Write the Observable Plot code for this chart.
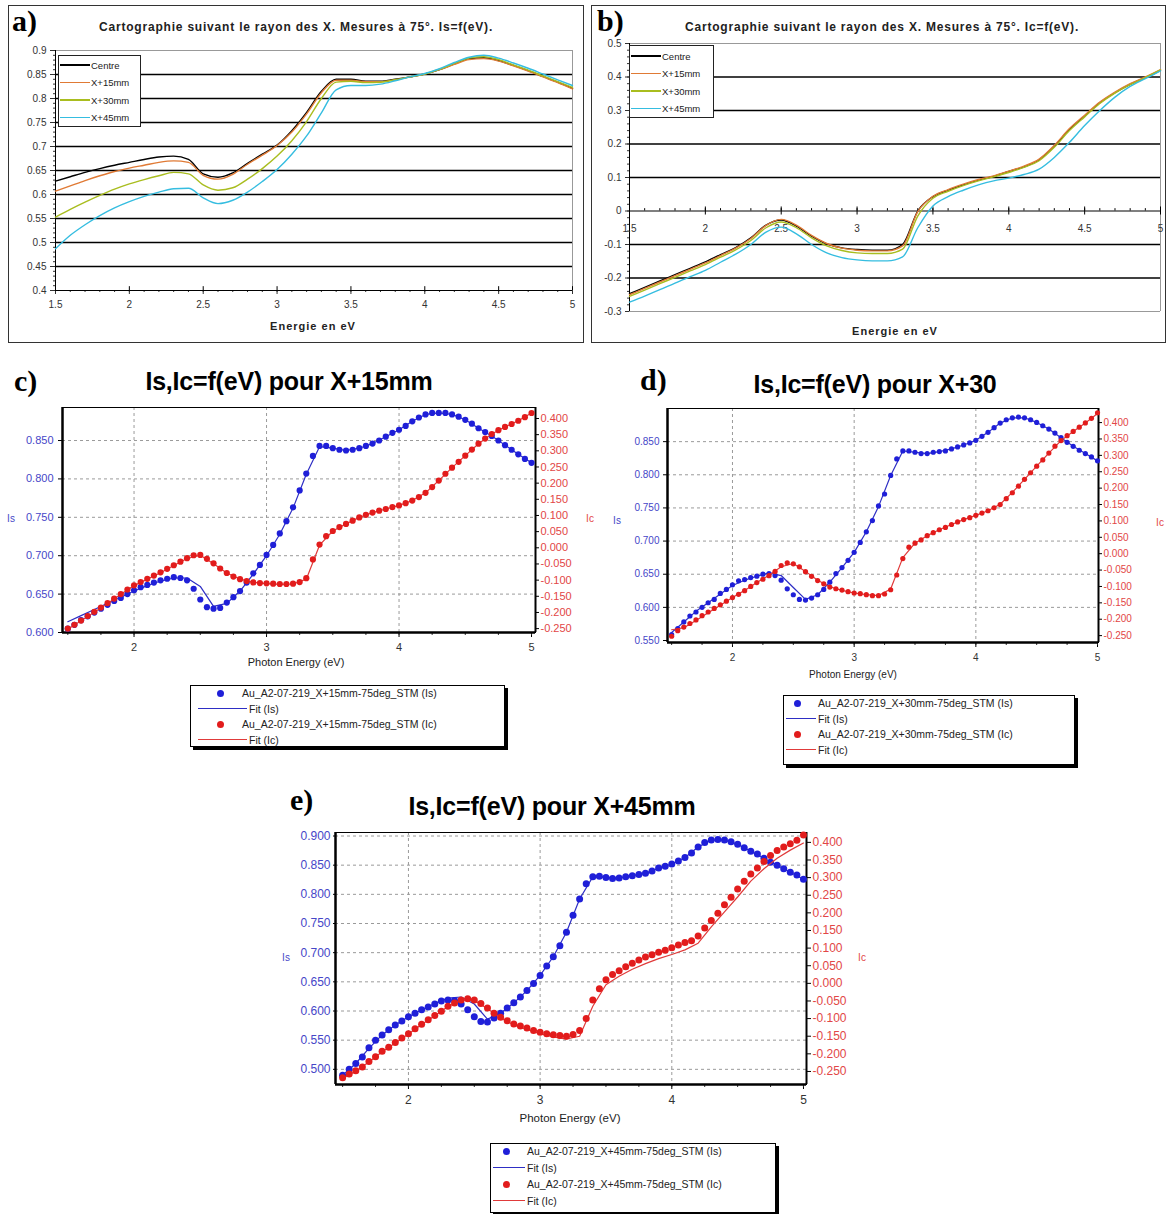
<!DOCTYPE html>
<html><head><meta charset="utf-8">
<script src="https://cdn.jsdelivr.net/npm/d3@7"></script>
<script src="https://cdn.jsdelivr.net/npm/@observablehq/plot@0.6"></script>
<style>
body{margin:0;background:#fff;width:1167px;height:1214px;position:relative;overflow:hidden;font-family:Arial,"Liberation Sans",sans-serif;}
.box{position:absolute;border:1px solid #333;box-sizing:border-box;}
.plab{position:absolute;font-family:"Liberation Serif","DejaVu Serif",serif;font-weight:bold;font-size:30px;line-height:1;}
.ctr{position:absolute;transform:translate(-50%,-50%);white-space:nowrap;line-height:1;}
.ptitle{font-weight:bold;font-size:25px;letter-spacing:-0.2px;}
.stitle{font-weight:bold;font-size:12px;letter-spacing:0.8px;color:#222;}
.xlab{font-size:11px;color:#222;}
.legend{position:absolute;border:1px solid #000;background:#fff;box-shadow:3px 3px 0 #000;font-size:10.5px;color:#222;}
.lrow{position:absolute;left:0;height:14px;display:flex;align-items:center;white-space:nowrap;}
.slegend{position:absolute;border:1px solid #222;background:#fff;font-size:9.5px;color:#222;}
svg{position:absolute;}
</style></head>
<body>
<script>
// ---------- shared energy grids ----------
const energies05 = [1.50,1.55,1.60,1.65,1.70,1.75,1.80,1.85,1.90,1.95,2.00,2.05,2.10,2.15,2.20,2.25,2.30,2.35,2.40,2.45,2.50,2.55,2.60,2.65,2.70,2.75,2.80,2.85,2.90,2.95,3.00,3.05,3.10,3.15,3.20,3.25,3.30,3.35,3.40,3.45,3.50,3.55,3.60,3.65,3.70,3.75,3.80,3.85,3.90,3.95,4.00,4.05,4.10,4.15,4.20,4.25,4.30,4.35,4.40,4.45,4.50,4.55,4.60,4.65,4.70,4.75,4.80,4.85,4.90,4.95,5.00];
const energies10 = [1.5,1.6,1.7,1.8,1.9,2.0,2.1,2.2,2.3,2.4,2.5,2.6,2.7,2.8,2.9,3.0,3.1,3.2,3.3,3.4,3.5,3.6,3.7,3.8,3.9,4.0,4.1,4.2,4.3,4.4,4.5,4.6,4.7,4.8,4.9,5.0];

// ---------- panel a : Is, four positions ----------
const seriesNames = ["Centre","X+15mm","X+30mm","X+45mm"];
const aCentre = [0.628,0.637,0.646,0.654,0.661,0.667,0.673,0.678,0.680,0.673,0.643,0.636,0.645,0.665,0.684,0.703,0.733,0.771,0.815,0.840,0.840,0.836,0.836,0.840,0.845,0.851,0.860,0.872,0.883,0.885,0.879,0.869,0.858,0.846,0.834,0.821];
const aX15    = [0.607,0.618,0.629,0.639,0.648,0.655,0.661,0.667,0.670,0.667,0.640,0.632,0.642,0.663,0.682,0.702,0.730,0.768,0.812,0.838,0.838,0.835,0.835,0.839,0.845,0.851,0.860,0.871,0.881,0.883,0.878,0.868,0.857,0.845,0.833,0.820];
const aX30    = [0.553,0.569,0.584,0.598,0.611,0.622,0.631,0.639,0.646,0.643,0.620,0.609,0.614,0.632,0.654,0.680,0.712,0.752,0.800,0.834,0.836,0.833,0.834,0.839,0.845,0.851,0.861,0.873,0.884,0.887,0.881,0.870,0.859,0.847,0.835,0.823];
const aX45    = [0.487,0.515,0.537,0.556,0.572,0.585,0.596,0.605,0.612,0.613,0.593,0.581,0.588,0.605,0.627,0.652,0.684,0.722,0.770,0.818,0.827,0.827,0.830,0.837,0.845,0.852,0.862,0.875,0.886,0.890,0.884,0.874,0.863,0.851,0.839,0.827];
const aYTicks = [0.4,0.45,0.5,0.55,0.6,0.65,0.7,0.75,0.8,0.85,0.9];
const aGrid = [0.45,0.5,0.55,0.6,0.65,0.7,0.75,0.8,0.85];
const abXTicks = [1.5,2,2.5,3,3.5,4,4.5,5];

// ---------- panel b : Ic, four positions ----------
const bCentre = [-0.247,-0.228,-0.209,-0.190,-0.171,-0.152,-0.130,-0.109,-0.080,-0.042,-0.027,-0.045,-0.075,-0.098,-0.110,-0.115,-0.117,-0.117,-0.100,0.000,0.043,0.062,0.078,0.092,0.103,0.118,0.132,0.153,0.193,0.243,0.283,0.323,0.353,0.378,0.398,0.420];
const bX15    = [-0.250,-0.231,-0.212,-0.193,-0.174,-0.155,-0.133,-0.111,-0.082,-0.043,-0.025,-0.042,-0.073,-0.097,-0.111,-0.117,-0.119,-0.119,-0.104,-0.002,0.044,0.064,0.080,0.094,0.105,0.119,0.134,0.155,0.196,0.246,0.286,0.325,0.355,0.380,0.400,0.422];
const bX30    = [-0.255,-0.236,-0.217,-0.198,-0.179,-0.160,-0.138,-0.116,-0.088,-0.050,-0.033,-0.050,-0.080,-0.104,-0.118,-0.125,-0.127,-0.127,-0.114,-0.015,0.038,0.059,0.076,0.090,0.102,0.115,0.130,0.150,0.190,0.240,0.281,0.321,0.352,0.377,0.398,0.421];
const bX45    = [-0.272,-0.254,-0.235,-0.215,-0.196,-0.177,-0.153,-0.129,-0.100,-0.063,-0.048,-0.068,-0.100,-0.125,-0.139,-0.146,-0.149,-0.149,-0.137,-0.050,0.015,0.043,0.062,0.078,0.090,0.098,0.109,0.125,0.160,0.205,0.255,0.300,0.340,0.372,0.395,0.418];
const bYTicks = [-0.3,-0.2,-0.1,0,0.1,0.2,0.3,0.4,0.5];
const bGrid = [-0.2,-0.1,0.1,0.2,0.3,0.4];

// ---------- panel c : X+15mm ----------
const cIs = [0.605,0.610,0.616,0.621,0.626,0.631,0.636,0.641,0.645,0.650,0.655,0.659,0.662,0.665,0.668,0.670,0.672,0.671,0.668,0.657,0.643,0.633,0.631,0.632,0.639,0.646,0.654,0.665,0.677,0.688,0.701,0.714,0.729,0.745,0.763,0.785,0.807,0.830,0.843,0.843,0.840,0.838,0.837,0.838,0.840,0.843,0.846,0.850,0.855,0.860,0.864,0.869,0.875,0.880,0.884,0.886,0.886,0.886,0.884,0.881,0.877,0.872,0.866,0.861,0.856,0.850,0.844,0.838,0.832,0.826,0.821];
const cIc = [-0.250,-0.238,-0.225,-0.211,-0.198,-0.185,-0.171,-0.157,-0.143,-0.129,-0.116,-0.106,-0.096,-0.086,-0.076,-0.065,-0.054,-0.043,-0.032,-0.023,-0.022,-0.034,-0.048,-0.064,-0.078,-0.089,-0.097,-0.103,-0.107,-0.109,-0.110,-0.111,-0.112,-0.112,-0.111,-0.106,-0.094,-0.036,0.010,0.036,0.052,0.064,0.074,0.084,0.094,0.102,0.109,0.115,0.120,0.126,0.131,0.138,0.146,0.157,0.170,0.188,0.208,0.229,0.248,0.266,0.285,0.304,0.322,0.338,0.352,0.364,0.374,0.383,0.393,0.404,0.417];
const cFitIs = [0.614,0.622,0.630,0.638,0.646,0.654,0.661,0.667,0.671,0.671,0.660,0.634,0.638,0.654,0.676,0.700,0.728,0.762,0.806,0.842,0.840,0.837,0.840,0.846,0.855,0.864,0.875,0.884,0.886,0.884,0.877,0.866,0.856,0.844,0.832,0.821];
const cFitIc = [-0.252,-0.226,-0.199,-0.172,-0.144,-0.117,-0.097,-0.077,-0.055,-0.033,-0.023,-0.049,-0.078,-0.097,-0.107,-0.111,-0.113,-0.112,-0.097,0.008,0.052,0.074,0.094,0.109,0.120,0.131,0.146,0.170,0.208,0.248,0.285,0.322,0.352,0.374,0.393,0.417];

// ---------- panel d : X+30mm ----------
const dIs = [0.559,0.568,0.578,0.587,0.593,0.600,0.607,0.612,0.621,0.627,0.634,0.640,0.642,0.645,0.647,0.650,0.651,0.648,0.641,0.628,0.619,0.612,0.611,0.614,0.619,0.627,0.638,0.651,0.660,0.671,0.683,0.698,0.714,0.731,0.753,0.771,0.799,0.824,0.836,0.836,0.834,0.832,0.832,0.834,0.835,0.836,0.839,0.842,0.845,0.848,0.852,0.858,0.864,0.871,0.878,0.883,0.886,0.887,0.886,0.883,0.879,0.874,0.869,0.863,0.856,0.849,0.843,0.837,0.832,0.827,0.821];
const dIc = [-0.252,-0.235,-0.224,-0.213,-0.202,-0.189,-0.178,-0.167,-0.156,-0.145,-0.134,-0.124,-0.113,-0.100,-0.088,-0.078,-0.067,-0.054,-0.036,-0.028,-0.031,-0.040,-0.055,-0.069,-0.082,-0.092,-0.102,-0.107,-0.111,-0.116,-0.120,-0.122,-0.125,-0.128,-0.128,-0.123,-0.110,-0.065,-0.015,0.020,0.032,0.042,0.055,0.064,0.073,0.080,0.089,0.097,0.104,0.110,0.117,0.124,0.131,0.140,0.150,0.168,0.186,0.206,0.227,0.247,0.267,0.286,0.307,0.328,0.345,0.360,0.373,0.386,0.399,0.413,0.430];
const dFitIs = [0.562,0.578,0.594,0.607,0.620,0.633,0.641,0.647,0.652,0.648,0.630,0.612,0.619,0.638,0.660,0.683,0.714,0.752,0.799,0.836,0.834,0.832,0.835,0.839,0.845,0.852,0.864,0.878,0.886,0.886,0.879,0.869,0.856,0.843,0.832,0.821];
const dFitIc = [-0.232,-0.226,-0.204,-0.180,-0.157,-0.134,-0.112,-0.088,-0.066,-0.040,-0.030,-0.054,-0.081,-0.101,-0.112,-0.120,-0.125,-0.128,-0.108,-0.012,0.032,0.055,0.073,0.089,0.104,0.117,0.131,0.151,0.187,0.227,0.267,0.307,0.345,0.373,0.399,0.428];

// ---------- panel e : X+45mm ----------
const eIs = [0.490,0.500,0.510,0.521,0.537,0.550,0.559,0.568,0.576,0.583,0.590,0.596,0.602,0.607,0.612,0.617,0.619,0.618,0.612,0.602,0.590,0.582,0.581,0.588,0.596,0.605,0.614,0.624,0.635,0.647,0.661,0.677,0.693,0.712,0.735,0.764,0.792,0.818,0.830,0.831,0.829,0.827,0.828,0.830,0.832,0.834,0.836,0.840,0.845,0.848,0.852,0.857,0.863,0.871,0.881,0.889,0.893,0.894,0.893,0.890,0.886,0.880,0.874,0.869,0.862,0.855,0.850,0.844,0.838,0.833,0.826];
const eIc = [-0.268,-0.257,-0.248,-0.237,-0.222,-0.208,-0.193,-0.181,-0.168,-0.155,-0.143,-0.129,-0.116,-0.103,-0.091,-0.079,-0.065,-0.056,-0.047,-0.044,-0.047,-0.057,-0.070,-0.085,-0.096,-0.106,-0.115,-0.121,-0.127,-0.134,-0.139,-0.143,-0.146,-0.148,-0.150,-0.145,-0.134,-0.100,-0.047,-0.015,0.010,0.025,0.036,0.047,0.057,0.066,0.075,0.081,0.088,0.094,0.101,0.109,0.116,0.121,0.134,0.157,0.178,0.199,0.223,0.244,0.268,0.290,0.310,0.327,0.346,0.363,0.377,0.387,0.396,0.406,0.421];
const eFitIs = [0.490,0.510,0.536,0.559,0.576,0.590,0.602,0.613,0.622,0.624,0.612,0.586,0.596,0.614,0.635,0.661,0.693,0.735,0.792,0.830,0.829,0.828,0.832,0.836,0.845,0.852,0.863,0.881,0.893,0.893,0.886,0.874,0.862,0.850,0.838,0.826];
const eFitIc = [-0.270,-0.249,-0.223,-0.194,-0.169,-0.144,-0.117,-0.092,-0.066,-0.048,-0.048,-0.072,-0.098,-0.118,-0.131,-0.143,-0.152,-0.158,-0.150,-0.065,-0.004,0.020,0.040,0.056,0.070,0.082,0.095,0.114,0.160,0.203,0.245,0.290,0.325,0.355,0.378,0.398];

const fitXTicks = [2,3,4,5];
const isTicksCD = [0.55,0.6,0.65,0.7,0.75,0.8,0.85];
const isTicksE = [0.5,0.55,0.6,0.65,0.7,0.75,0.8,0.85,0.9];
const icTicks = [-0.25,-0.2,-0.15,-0.1,-0.05,0,0.05,0.1,0.15,0.2,0.25,0.3,0.35,0.4];

// ---------- helpers ----------
const fmt = d => String(+d.toFixed(2));
const f3 = d => d.toFixed(3);
const FONT = "Arial, 'Liberation Sans', sans-serif";
const lineColors = ["#000000","#e07a35","#a9bd1f","#35bde0"];

function put(el, left, top) { el.style.left = left + "px"; el.style.top = top + "px"; document.body.appendChild(el); return el; }
function div(cls, html) { const d = document.createElement("div"); d.className = cls; d.innerHTML = html; return d; }
function center(cls, html, cx, cy, extra) { const d = div("ctr " + cls, html); if (extra) Object.assign(d.style, extra); return put(d, cx, cy); }

// ---------- panel a ----------
const aData = [aCentre,aX15,aX30,aX45].flatMap((v, k) => v.map((y, i) => ({x: energies10[i], y, s: seriesNames[k]})));
put(div("box",""), 8, 5).style.cssText += "width:576px;height:338px;";
const pa = Plot.plot({
  width: 574, height: 336, marginLeft: 46, marginRight: 11, marginTop: 44, marginBottom: 52,
  x: {domain: [1.5, 5], axis: null}, y: {domain: [0.4, 0.9], axis: null},
  color: {domain: seriesNames, range: lineColors},
  style: {background: "transparent", fontFamily: FONT, fontSize: "10px", color: "#333"},
  marks: [
    Plot.ruleY(aGrid, {stroke: "#000", strokeWidth: 1.3}),
    Plot.ruleY([0.9], {stroke: "#999"}),
    Plot.ruleX([5], {stroke: "#999"}),
    Plot.axisY({ticks: aYTicks, tickFormat: fmt, tickSize: 5, tickPadding: 4, label: null}),
    Plot.axisY({ticks: d3.range(0.4, 0.9001, 0.01), tickFormat: () => "", tickSize: 2, label: null}),
    Plot.axisX({ticks: abXTicks, tickFormat: fmt, tickSize: 4, tickPadding: 6, label: null}),
    Plot.axisX({ticks: d3.range(1.5, 5.001, 0.1), tickFormat: () => "", tickSize: 2, label: null}),
    Plot.ruleX(abXTicks, {x: d => d, y1: 0.4, y2: 0.408, stroke: "#000"}),
    Plot.ruleX([1.5], {stroke: "#000"}),
    Plot.ruleY([0.4], {stroke: "#000"}),
    Plot.line(aData, {x: "x", y: "y", stroke: "s", strokeWidth: 1.4, curve: "monotone-x"})
  ]
});
put(pa, 9, 6);
put(div("plab","a)"), 12, 6);
center("stitle", "Cartographie suivant le rayon des X. Mesures à 75°. Is=f(eV).", 296, 27);
center("stitle", "Energie en eV", 313, 326, {fontSize: "11px", letterSpacing: "1px"});
{
  const lg = put(div("slegend",""), 58, 55); lg.style.width = "81px"; lg.style.height = "70px";
  seriesNames.forEach((n, k) => {
    const r = div("lrow", `<span style="display:inline-block;width:30px;height:1.5px;background:${lineColors[k]};margin-right:1px"></span>${n}`);
    r.style.top = (2 + k * 17.5) + "px"; r.style.left = "1px"; lg.appendChild(r);
  });
}

// ---------- panel b ----------
const bData = [bCentre,bX15,bX30,bX45].flatMap((v, k) => v.map((y, i) => ({x: energies10[i], y, s: seriesNames[k]})));
put(div("box",""), 591, 5).style.cssText += "width:575px;height:338px;";
const pb = Plot.plot({
  width: 572, height: 336, marginLeft: 37, marginRight: 4, marginTop: 37, marginBottom: 31,
  x: {domain: [1.5, 5], axis: null}, y: {domain: [-0.3, 0.5], axis: null},
  color: {domain: seriesNames, range: lineColors},
  style: {background: "transparent", fontFamily: FONT, fontSize: "10px", color: "#333"},
  marks: [
    Plot.ruleY(bGrid, {stroke: "#000", strokeWidth: 1.3}),
    Plot.ruleY([0.5, -0.3], {stroke: "#999"}),
    Plot.ruleX([5], {stroke: "#999"}),
    Plot.axisY({ticks: bYTicks, tickFormat: fmt, tickSize: 4, tickPadding: 4, label: null}),
    Plot.axisY({ticks: d3.range(-0.3, 0.5001, 0.02), tickFormat: () => "", tickSize: 2, label: null}),
    Plot.ruleX([1.5], {stroke: "#000"}),
    Plot.ruleY([0], {stroke: "#000", strokeWidth: 1}),
    Plot.ruleX(abXTicks, {x: d => d, y1: -0.012, y2: 0.012, stroke: "#000"}),
    Plot.ruleX(d3.range(1.5, 5.001, 0.1), {x: d => d, y1: 0, y2: 0.007, stroke: "#000"}),
    Plot.text(abXTicks, {x: d => d, y: 0, dy: 18, text: fmt, fill: "#333", fontSize: 10}),
    Plot.line(bData, {x: "x", y: "y", stroke: "s", strokeWidth: 1.4, curve: "monotone-x"})
  ]
});
put(pb, 592, 6);
put(div("plab","b)"), 597, 6);
center("stitle", "Cartographie suivant le rayon des X. Mesures à 75°. Ic=f(eV).", 882, 27);
center("stitle", "Energie en eV", 895, 331, {fontSize: "11px", letterSpacing: "1px"});
{
  const lg = put(div("slegend",""), 629, 45); lg.style.width = "83px"; lg.style.height = "71px";
  seriesNames.forEach((n, k) => {
    const r = div("lrow", `<span style="display:inline-block;width:30px;height:1.5px;background:${lineColors[k]};margin-right:1px"></span>${n}`);
    r.style.top = (3 + k * 17.5) + "px"; r.style.left = "1px"; lg.appendChild(r);
  });
}

// ---------- dual-axis fit panels ----------
const BLUE = "#1f1fd8", BLUE_FIT = "#2e2ec4", BLUE_TXT = "#4646c8";
const RED = "#e21c1c", RED_FIT = "#e03a3a", RED_TXT = "#e24646";

function dualPanel(c) {
  const common = {
    width: c.w, height: c.h, marginLeft: c.ml, marginRight: c.mr, marginTop: c.mt, marginBottom: c.mb,
    style: {background: "transparent", fontFamily: FONT, fontSize: c.fs + "px", color: "#333"}
  };
  const isPts = energies05.map((x, i) => ({x, y: c.is[i]}));
  const icPts = energies05.map((x, i) => ({x, y: c.ic[i]}));
  const isFit = energies10.map((x, i) => ({x, y: c.fitIs[i]}));
  const icFit = energies10.map((x, i) => ({x, y: c.fitIc[i]}));
  const p1 = Plot.plot({...common,
    x: {domain: c.xd, axis: null}, y: {domain: c.isd, axis: null},
    marks: [
      Plot.ruleX([2,3,4], {stroke: "#9a9a9a", strokeDasharray: "3,3"}),
      Plot.ruleY(c.isTicks.filter(v => v > c.isd[0] + 0.01), {stroke: "#9a9a9a", strokeDasharray: "3,3"}),
      Plot.axisY({ticks: c.isTicks, tickFormat: f3, tickSize: c.lts, tickPadding: c.ltp, label: null, color: BLUE_TXT, stroke: "#000"}),
      Plot.axisX({ticks: fitXTicks, tickFormat: d => String(d), tickSize: 5, tickPadding: 6, label: null, color: "#333", stroke: "#000"}),
      Plot.axisX({ticks: d3.range(1.5, 5.001, 0.25), tickFormat: () => "", tickSize: 3, label: null}),
      Plot.frame({stroke: "#000", strokeWidth: 1}),
      Plot.ruleX([c.xd[0]], {stroke: "#000", strokeWidth: 2.5}),
      Plot.ruleY([c.isd[0]], {stroke: "#000", strokeWidth: 2.5}),
      Plot.ruleX([c.xd[1]], {stroke: "#000", strokeWidth: 2}),
      Plot.line(isFit, {x: "x", y: "y", stroke: BLUE_FIT, strokeWidth: 1.2}),
      Plot.dot(isPts, {x: "x", y: "y", r: c.r, fill: BLUE})
    ]
  });
  const p2 = Plot.plot({...common,
    x: {domain: c.xd, axis: null}, y: {domain: c.icd, axis: null},
    marks: [
      Plot.axisY({anchor: "right", ticks: icTicks, tickFormat: f3, tickSize: c.rts, tickPadding: 2, label: null, color: RED_TXT, stroke: "#000"}),
      Plot.line(icFit, {x: "x", y: "y", stroke: RED_FIT, strokeWidth: 1.2}),
      Plot.dot(icPts, {x: "x", y: "y", r: c.r, fill: RED})
    ]
  });
  put(p1, c.left, c.top); put(p2, c.left, c.top);
}

function fitLegend(left, top, w, h, label, spacing, symX) {
  const lg = put(div("legend", ""), left, top); lg.style.width = w + "px"; lg.style.height = h + "px";
  const rows = [
    [`<span style="display:inline-block;width:7px;height:7px;border-radius:50%;background:${BLUE};margin:0 ${symX.gap}px 0 ${symX.dot}px"></span>`, `Au_A2-07-219_${label}-75deg_STM (Is)`],
    [`<span style="display:inline-block;width:${symX.line}px;height:1.3px;background:${BLUE_FIT};margin:0 2px 0 ${symX.l0}px"></span>`, "Fit (Is)"],
    [`<span style="display:inline-block;width:7px;height:7px;border-radius:50%;background:${RED};margin:0 ${symX.gap}px 0 ${symX.dot}px"></span>`, `Au_A2-07-219_${label}-75deg_STM (Ic)`],
    [`<span style="display:inline-block;width:${symX.line}px;height:1.3px;background:${RED_FIT};margin:0 2px 0 ${symX.l0}px"></span>`, "Fit (Ic)"]
  ];
  rows.forEach(([s, t], k) => {
    const r = div("lrow", s + t); r.style.top = (0 + k * spacing) + "px"; lg.appendChild(r);
  });
}

// panel c
dualPanel({left: 0, top: 400, w: 600, h: 280, ml: 62, mr: 65, mt: 7, mb: 48, fs: 11,
  xd: [1.46, 5.03], isd: [0.600, 0.893], icd: [-0.262, 0.434], isTicks: [0.6,0.65,0.7,0.75,0.8,0.85],
  lts: 4, ltp: 5, rts: 3, r: 3.1, is: cIs, ic: cIc, fitIs: cFitIs, fitIc: cFitIc});
put(div("plab","c)"), 14, 366);
center("ptitle", "Is,Ic=f(eV) pour X+15mm", 289, 381);
center("xlab", "Photon Energy (eV)", 296, 662);
center("xlab", "Is", 11, 519, {color: BLUE_TXT, fontSize: "10px"});
center("xlab", "Ic", 590, 519, {color: RED_TXT, fontSize: "10px"});
fitLegend(190, 685, 313, 60, "X+15mm", 15.5, {dot: 26, gap: 18, line: 49, l0: 7});

// panel d
dualPanel({left: 600, top: 400, w: 567, h: 280, ml: 67, mr: 69, mt: 8, mb: 38, fs: 10,
  xd: [1.466, 5.008], isd: [0.547, 0.900], icd: [-0.271, 0.443], isTicks: isTicksCD,
  lts: 4, ltp: 4, rts: 3, r: 2.6, is: dIs, ic: dIc, fitIs: dFitIs, fitIc: dFitIc});
put(div("plab","d)"), 640, 365);
center("ptitle", "Is,Ic=f(eV) pour X+30", 875, 384);
center("xlab", "Photon Energy (eV)", 853, 675, {fontSize: "10px"});
center("xlab", "Is", 617, 521, {color: BLUE_TXT, fontSize: "10px"});
center("xlab", "Ic", 1160, 523, {color: RED_TXT, fontSize: "10px"});
fitLegend(783, 695, 290, 68, "X+30mm", 15.5, {dot: 10, gap: 17, line: 30, l0: 2});

// panel e
dualPanel({left: 270, top: 820, w: 600, h: 300, ml: 65, mr: 64, mt: 12, mb: 36, fs: 12,
  xd: [1.446, 5.023], isd: [0.474, 0.906], icd: [-0.287, 0.428], isTicks: isTicksE,
  lts: 2, ltp: 3, rts: 4, r: 3.5, is: eIs, ic: eIc, fitIs: eFitIs, fitIc: eFitIc});
put(div("plab","e)"), 290, 785);
center("ptitle", "Is,Ic=f(eV) pour X+45mm", 552, 806);
center("xlab", "Photon Energy (eV)", 570, 1119, {fontSize: "11.5px"});
center("xlab", "Is", 286, 958, {color: BLUE_TXT, fontSize: "10px"});
center("xlab", "Ic", 862, 958, {color: RED_TXT, fontSize: "10px"});
fitLegend(490, 1143, 284, 68, "X+45mm", 16.5, {dot: 12, gap: 17, line: 32, l0: 2});
</script>
</body></html>
